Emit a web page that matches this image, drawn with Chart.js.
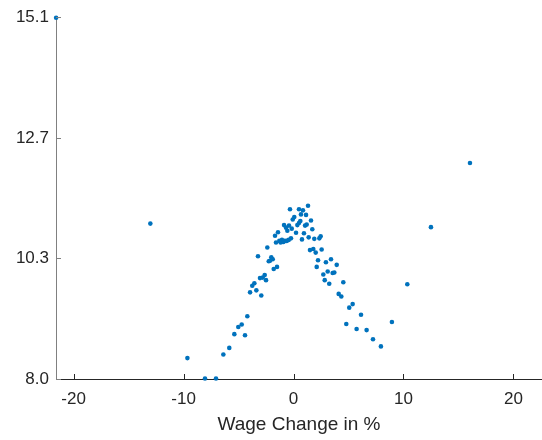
<!DOCTYPE html>
<html>
<head>
<meta charset="utf-8">
<script src="https://cdn.jsdelivr.net/npm/chart.js@4.4.0/dist/chart.umd.min.js"></script>
<style>
  html, body { margin: 0; padding: 0; background: #fff; }
  #wrap { width: 542px; height: 440px; position: relative; }
</style>
</head>
<body>
<div id="wrap"><canvas id="chart"></canvas></div>
<script>
'use strict'

// wage change in % (x) against value (y)
const wageChange = [
    -21.59, -13.02, -9.65, -8.05, -7.05, -6.38, -5.84, -5.38, -5.02, -4.71,
    -4.41, -4.20, -3.95, -3.75, -3.56, -3.38, -2.93, -3.05, -2.80, -2.62,
    -2.50, -3.23, -2.38, -2.25, -2.14, -2.02, -1.89, -1.80, -1.50, -1.68,
    -1.41, -1.59, -1.29, -1.17, -1.05, -0.92, -0.80, -0.62, -0.44, -0.23,
    -0.86, -0.68, -0.56, -0.41, -0.16, -0.32, -0.07, 0.07, 0.23, 0.35,
    0.50, 0.62, 0.50, 0.86, 0.68, 1.14, 1.32, 1.05, 1.20, 0.95,
    0.77, 1.38, 1.59, 1.71, 1.89, 2.35, 2.47, 1.50, 1.80, 2.02,
    2.56, 2.23, 2.11, 2.95, 3.41, 3.11, 3.93, 3.56, 3.71, 2.71,
    2.84, 3.25, 4.53, 4.11, 4.35, 5.07, 5.38, 4.80, 5.74, 6.14,
    6.65, 7.23, 7.95, 8.95, 10.35, 12.50, 16.05
];
const values = [
    15.07, 11.03, 8.39, 7.99, 7.99, 8.46, 8.59, 8.86, 9.00, 9.05,
    8.84, 9.21, 9.68, 9.81, 9.86, 9.72, 9.62, 9.96, 9.97, 10.02,
    9.92, 10.39, 10.56, 10.29, 10.30, 10.37, 10.33, 10.14, 10.18, 10.79,
    10.86, 10.66, 10.69, 10.66, 10.71, 10.67, 10.69, 10.69, 10.71, 10.74,
    11.00, 10.95, 10.89, 10.99, 10.93, 11.31, 11.11, 11.16, 10.85, 11.00,
    11.04, 11.08, 11.31, 11.29, 11.21, 11.20, 11.38, 10.99, 11.01, 10.84,
    10.72, 10.76, 11.09, 10.92, 10.73, 10.74, 10.78, 10.51, 10.53, 10.46,
    10.52, 10.31, 10.18, 10.27, 10.33, 10.09, 10.22, 10.06, 10.07, 10.03,
    9.92, 9.85, 9.88, 9.65, 9.60, 9.38, 9.45, 9.06, 8.96, 9.24,
    8.94, 8.76, 8.62, 9.10, 9.84, 10.96, 12.22
];
const xTicks = [-20, -10, 0, 10, 20];
const yTicks = [7.98, 10.347, 12.713, 15.08];

const points = wageChange.map((x, i) => ({ x: x, y: values[i] }));

const textColor = '#262626';
const font = { family: "'Liberation Sans', Arial, Helvetica, sans-serif", size: 17 };

// MATLAB style ticks pointing into the plot
const innerTicks = {
    id: 'innerTicks',
    afterDraw(chart) {
        const ctx = chart.ctx;
        const xs = chart.scales.x, ys = chart.scales.y;
        const area = chart.chartArea;
        ctx.save();
        ctx.lineWidth = 1;
        ctx.strokeStyle = textColor;
        xTicks.forEach(t => {
            const px = Math.round(xs.getPixelForValue(t)) + 0.5;
            ctx.beginPath();
            ctx.moveTo(px, area.bottom);
            ctx.lineTo(px, area.bottom - 5);
            ctx.stroke();
        });
        ctx.strokeStyle = '#808080';
        yTicks.forEach(t => {
            const py = Math.round(ys.getPixelForValue(t)) + 0.5;
            ctx.beginPath();
            ctx.moveTo(area.left, py);
            ctx.lineTo(area.left + 5, py);
            ctx.stroke();
        });
        ctx.restore();
    }
};

new Chart(document.getElementById('chart'), {
    type: 'scatter',
    data: {
        datasets: [{
            data: points,
            backgroundColor: '#0072BD',
            borderColor: '#0072BD',
            borderWidth: 0,
            pointRadius: 2.3,
            clip: false
        }]
    },
    options: {
        responsive: true,
        maintainAspectRatio: false,
        animation: false,
        layout: { autoPadding: false, padding: { top: 17, right: 0, bottom: 0, left: 0 } },
        plugins: {
            legend: { display: false },
            tooltip: { enabled: false }
        },
        scales: {
            x: {
                type: 'linear',
                min: -21.6,
                max: 22.6,
                afterBuildTicks: s => { s.ticks = xTicks.map(v => ({ value: v })); },
                afterFit: s => { s.height = 61; },
                grid: { display: false, drawTicks: false },
                border: { display: true, color: textColor, width: 1 },
                ticks: {
                    color: textColor,
                    font: font,
                    padding: 10,
                    maxRotation: 0,
                    callback: v => String(v)
                },
                title: {
                    display: true,
                    text: 'Wage Change in %',
                    color: textColor,
                    font: { family: font.family, size: 19 },
                    padding: { top: 0, bottom: 4 }
                }
            },
            y: {
                type: 'linear',
                min: 7.98,
                max: 15.08,
                afterBuildTicks: s => { s.ticks = yTicks.map(v => ({ value: v })); },
                afterFit: s => { s.width = 56; },
                grid: { display: false, drawTicks: false },
                border: { display: true, color: '#808080', width: 1 },
                ticks: {
                    color: textColor,
                    font: font,
                    padding: 7,
                    callback: v => v.toFixed(1)
                }
            }
        }
    },
    plugins: [innerTicks]
});
</script>
</body>
</html>
